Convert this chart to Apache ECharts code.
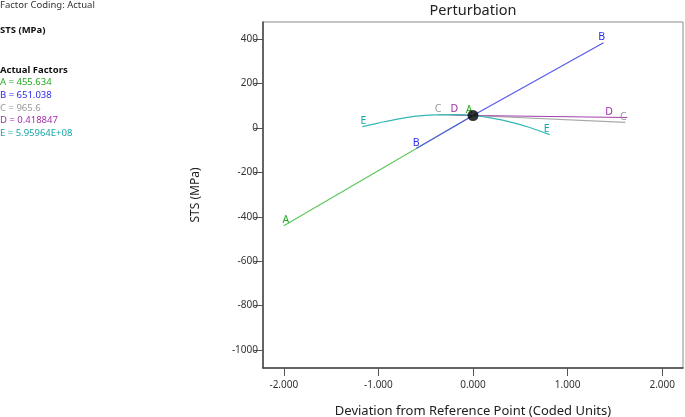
<!DOCTYPE html>
<html><head><meta charset="utf-8">
<script src="https://cdn.jsdelivr.net/npm/echarts@6/dist/echarts.min.js"></script>
<style>html,body{margin:0;padding:0;background:#fff}#c{width:685px;height:417px}</style>
</head><body><div id="c"></div>
<script>
// Data
const xTicks = [-2, -1, 0, 1, 2];
const yTicks = [-1000, -800, -600, -400, -200, 0, 200, 400];
const refPoint = [0, 56];
const seriesA = [[-2, -440], [0, 56]];
const seriesB = [[-0.60, -93], [0, 56], [1.38, 384]];
const seriesC = [[-0.37, 60], [0, 56], [1.61, 25]];
const seriesD = [[-0.24, 60], [0, 56], [1.63, 47]];
const seriesE = [[-1.17, 6], [-1.0, 22], [-0.8, 40], [-0.6, 53], [-0.4, 59], [-0.2, 60], [0, 56], [0.2, 44], [0.4, 26], [0.6, 2], [0.81, -30]];
const factorNames = ['A', 'B', 'C', 'D', 'E'];
const factorValues = ['455.634', '651.038', '965.6', '0.418847', '5.95964E+08'];

const lineColors = ['#5ec75e', '#5a5aee', '#a8a8a8', '#a040a8', '#35b8b8'];
const labelColors = ['#22aa22', '#2a2af0', '#999999', '#a030a8', '#1aa5a5'];
const FONT = 'Noto Sans';

function mkSeries(name, data, idx, startOff, endOff, smooth) {
  const d = data.map((p, i) => {
    const item = { value: p };
    if (i === 0 || i === data.length - 1) {
      item.label = {
        show: true, formatter: name, position: 'top',
        offset: i === 0 ? startOff : endOff,
        color: labelColors[idx], fontSize: 10.5, fontFamily: FONT, distance: 0
      };
    }
    return item;
  });
  return {
    type: 'line', name, data: d, smooth: smooth ? 0.3 : false, showSymbol: true,
    symbol: 'circle', symbolSize: 0, z: 3,
    lineStyle: { color: lineColors[idx], width: 1.2 },
    itemStyle: { color: 'rgba(0,0,0,0)' },
    label: { show: false },
    emphasis: { disabled: true }
  };
}

const chart = echarts.init(document.getElementById('c'), null, { renderer: 'canvas' });
const graphics = [
  { type: 'text', x: 0, y: 0, style: { text: 'Factor Coding: Actual', font: '9.5px "' + FONT + '"', fill: '#333' } },
  { type: 'text', x: 0, y: 25, style: { text: 'STS (MPa)', font: 'bold 9.5px "' + FONT + '"', fill: '#111' } },
  { type: 'text', x: 0, y: 65, style: { text: 'Actual Factors', font: 'bold 9.5px "' + FONT + '"', fill: '#111' } },
  { type: 'text', x: 473, y: 3, style: { text: 'Perturbation', font: '14.5px "' + FONT + '"', fill: '#222', align: 'center' } }
];
factorNames.forEach((n, i) => {
  graphics.push({ type: 'text', x: 0, y: 77.5 + i * 12.7,
    style: { text: n + ' = ' + factorValues[i], font: '9.5px "' + FONT + '"', fill: labelColors[i] } });
});

chart.setOption({
  animation: false,
  backgroundColor: '#fff',
  grid: { left: 263, right: 2, top: 22, bottom: 49, show: true, borderColor: '#8a8a8a', borderWidth: 1, outerBoundsMode: 'none', containLabel: false },
  xAxis: {
    type: 'value', min: -2.22, max: 2.22,
    name: 'Deviation from Reference Point (Coded Units)', nameLocation: 'middle', nameGap: 37,
    nameTextStyle: { fontSize: 13, color: '#222', fontFamily: FONT },
    axisLine: { show: true, onZero: false, lineStyle: { color: '#444', width: 1.5 } },
    axisTick: { show: true, length: 8, customValues: xTicks, lineStyle: { color: '#555' } },
    axisLabel: { customValues: xTicks, formatter: v => v.toFixed(3), fontSize: 10, color: '#333', margin: 12, fontFamily: FONT },
    splitLine: { show: false }
  },
  yAxis: {
    type: 'value', min: -1081, max: 477,
    name: 'STS (MPa)', nameLocation: 'middle', nameGap: 61, nameRotate: 90,
    nameTextStyle: { fontSize: 12, color: '#222', fontFamily: FONT },
    axisLine: { show: true, onZero: false, lineStyle: { color: '#444', width: 1.5 } },
    axisTick: { show: true, length: 9, customValues: yTicks, lineStyle: { color: '#555' } },
    axisLabel: { customValues: yTicks, formatter: v => String(v), fontSize: 10, color: '#333', margin: 5, fontFamily: FONT },
    splitLine: { show: false }
  },
  graphic: graphics,
  series: [
    mkSeries('A', seriesA, 0, [2, 0], [-4, 0], false),
    mkSeries('B', seriesB, 1, [0, 0], [-2, 0], false),
    mkSeries('C', seriesC, 2, [0, 0], [-2, 0], false),
    mkSeries('D', seriesD, 3, [4, 0], [-18, 0], false),
    mkSeries('E', seriesE, 4, [1, 0], [-3, 0], true),
    { type: 'scatter', data: [refPoint], symbolSize: 11, itemStyle: { color: '#000' }, z: 5, emphasis: { disabled: true } }
  ]
});
</script></body></html>
